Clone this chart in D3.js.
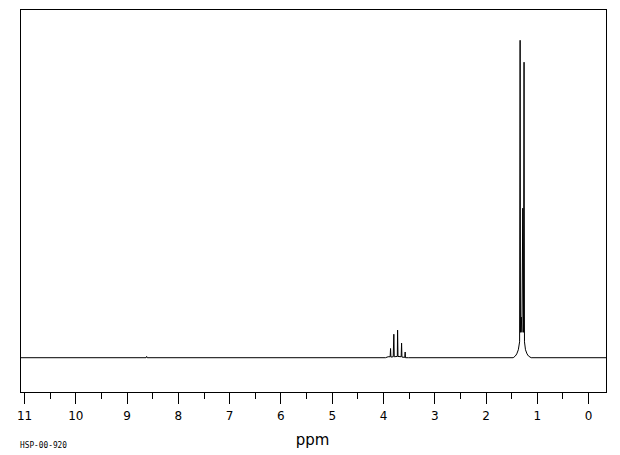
<!DOCTYPE html>
<html>
<head>
<meta charset="utf-8">
<script src="https://cdn.jsdelivr.net/npm/d3@7"></script>
<style>
  html, body { margin: 0; padding: 0; background: #fff; }
  svg { display: block; }
</style>
</head>
<body>
<svg id="chart" width="620" height="455"></svg>
<script>
// ---- data ----
const majorTicks = [11, 10, 9, 8, 7, 6, 5, 4, 3, 2, 1, 0];
const minorTicks = [10.5, 9.5, 8.5, 7.5, 6.5, 5.5, 4.5, 3.5, 2.5, 1.5, 0.5];
const axisTitle = "ppm";
const codeLabel = "HSP-00-920";
// spectrum trace: chemical shift (ppm) and relative intensity (tallest = 100)
const tracePpm = [11.07, 8.62, 8.61, 8.60, 3.95, 3.90, 3.86, 3.852, 3.845, 3.80, 3.788, 3.78, 3.72, 3.715, 3.707,
  3.645, 3.637, 3.63, 3.575, 3.567, 3.56, 3.50, 1.46, 1.42, 1.39, 1.36, 1.335, 1.325, 1.318, 1.302, 1.29,
  1.273, 1.268, 1.26, 1.248, 1.24, 1.22, 1.19, 1.16, 1.11, -0.36];
const traceInt = [0, 0, 0.4, 0, 0, 0.3, 0.3, 2.9, 0.2, 0.3, 7.4, 0.3, 0.4, 8.7, 0.4,
  0.3, 4.6, 0.2, 0.1, 1.8, 0, 0, 0, 0.5, 1.2, 2.5, 5, 100, 8, 12.8, 8,
  47.1, 30, 8, 93.1, 5, 2.5, 1.2, 0.5, 0, 0];

// ---- drawing ----
const svg = d3.select("#chart");
const mLeft = 20.5, mRight = 606.5, mTop = 9.5, mBottom = 392.5;

const x = d3.scaleLinear().domain([11.07, -0.36]).range([mLeft, mRight]);
const y = d3.scaleLinear().domain([-10.96, 109.7]).range([mBottom, mTop]);

// frame
svg.append("rect")
  .attr("x", mLeft).attr("y", mTop)
  .attr("width", mRight - mLeft).attr("height", mBottom - mTop)
  .attr("fill", "none").attr("stroke", "#000").attr("stroke-width", 1)
  .attr("shape-rendering", "crispEdges");

// spectrum
const pts = tracePpm.map((p, i) => [p, traceInt[i]]);
const line = d3.line().x(d => x(d[0])).y(d => y(d[1]));
svg.append("path")
  .datum(pts)
  .attr("d", line)
  .attr("fill", "none")
  .attr("stroke", "#000")
  .attr("stroke-width", 1)
  .attr("stroke-linejoin", "miter");

// axes
const majorAxis = d3.axisBottom(x)
  .tickValues(majorTicks)
  .tickSize(11)
  .tickPadding(8)
  .tickFormat(d3.format("d"));
const gMajor = svg.append("g").attr("transform", `translate(0,${mBottom})`).call(majorAxis);
gMajor.select(".domain").remove();
gMajor.selectAll("line").attr("stroke", "#000").attr("shape-rendering", "crispEdges");
gMajor.selectAll("text")
  .attr("fill", "#000")
  .style("font-family", "'DejaVu Sans', sans-serif")
  .style("font-size", "12px");

const minorAxis = d3.axisBottom(x)
  .tickValues(minorTicks)
  .tickSize(6.5)
  .tickFormat("");
const gMinor = svg.append("g").attr("transform", `translate(0,${mBottom})`).call(minorAxis);
gMinor.select(".domain").remove();
gMinor.selectAll("line").attr("stroke", "#000").attr("shape-rendering", "crispEdges");

// axis title
svg.append("text")
  .attr("x", 312.5).attr("y", 445)
  .attr("text-anchor", "middle")
  .style("font-family", "'DejaVu Sans', sans-serif")
  .style("font-size", "15px")
  .attr("fill", "#000")
  .text(axisTitle);

// code label
svg.append("text")
  .attr("x", 20).attr("y", 448)
  .attr("textLength", 47)
  .attr("lengthAdjust", "spacingAndGlyphs")
  .style("font-family", "'DejaVu Sans Mono', monospace")
  .style("font-size", "9px")
  .attr("fill", "#000")
  .text(codeLabel);
</script>
</body>
</html>
